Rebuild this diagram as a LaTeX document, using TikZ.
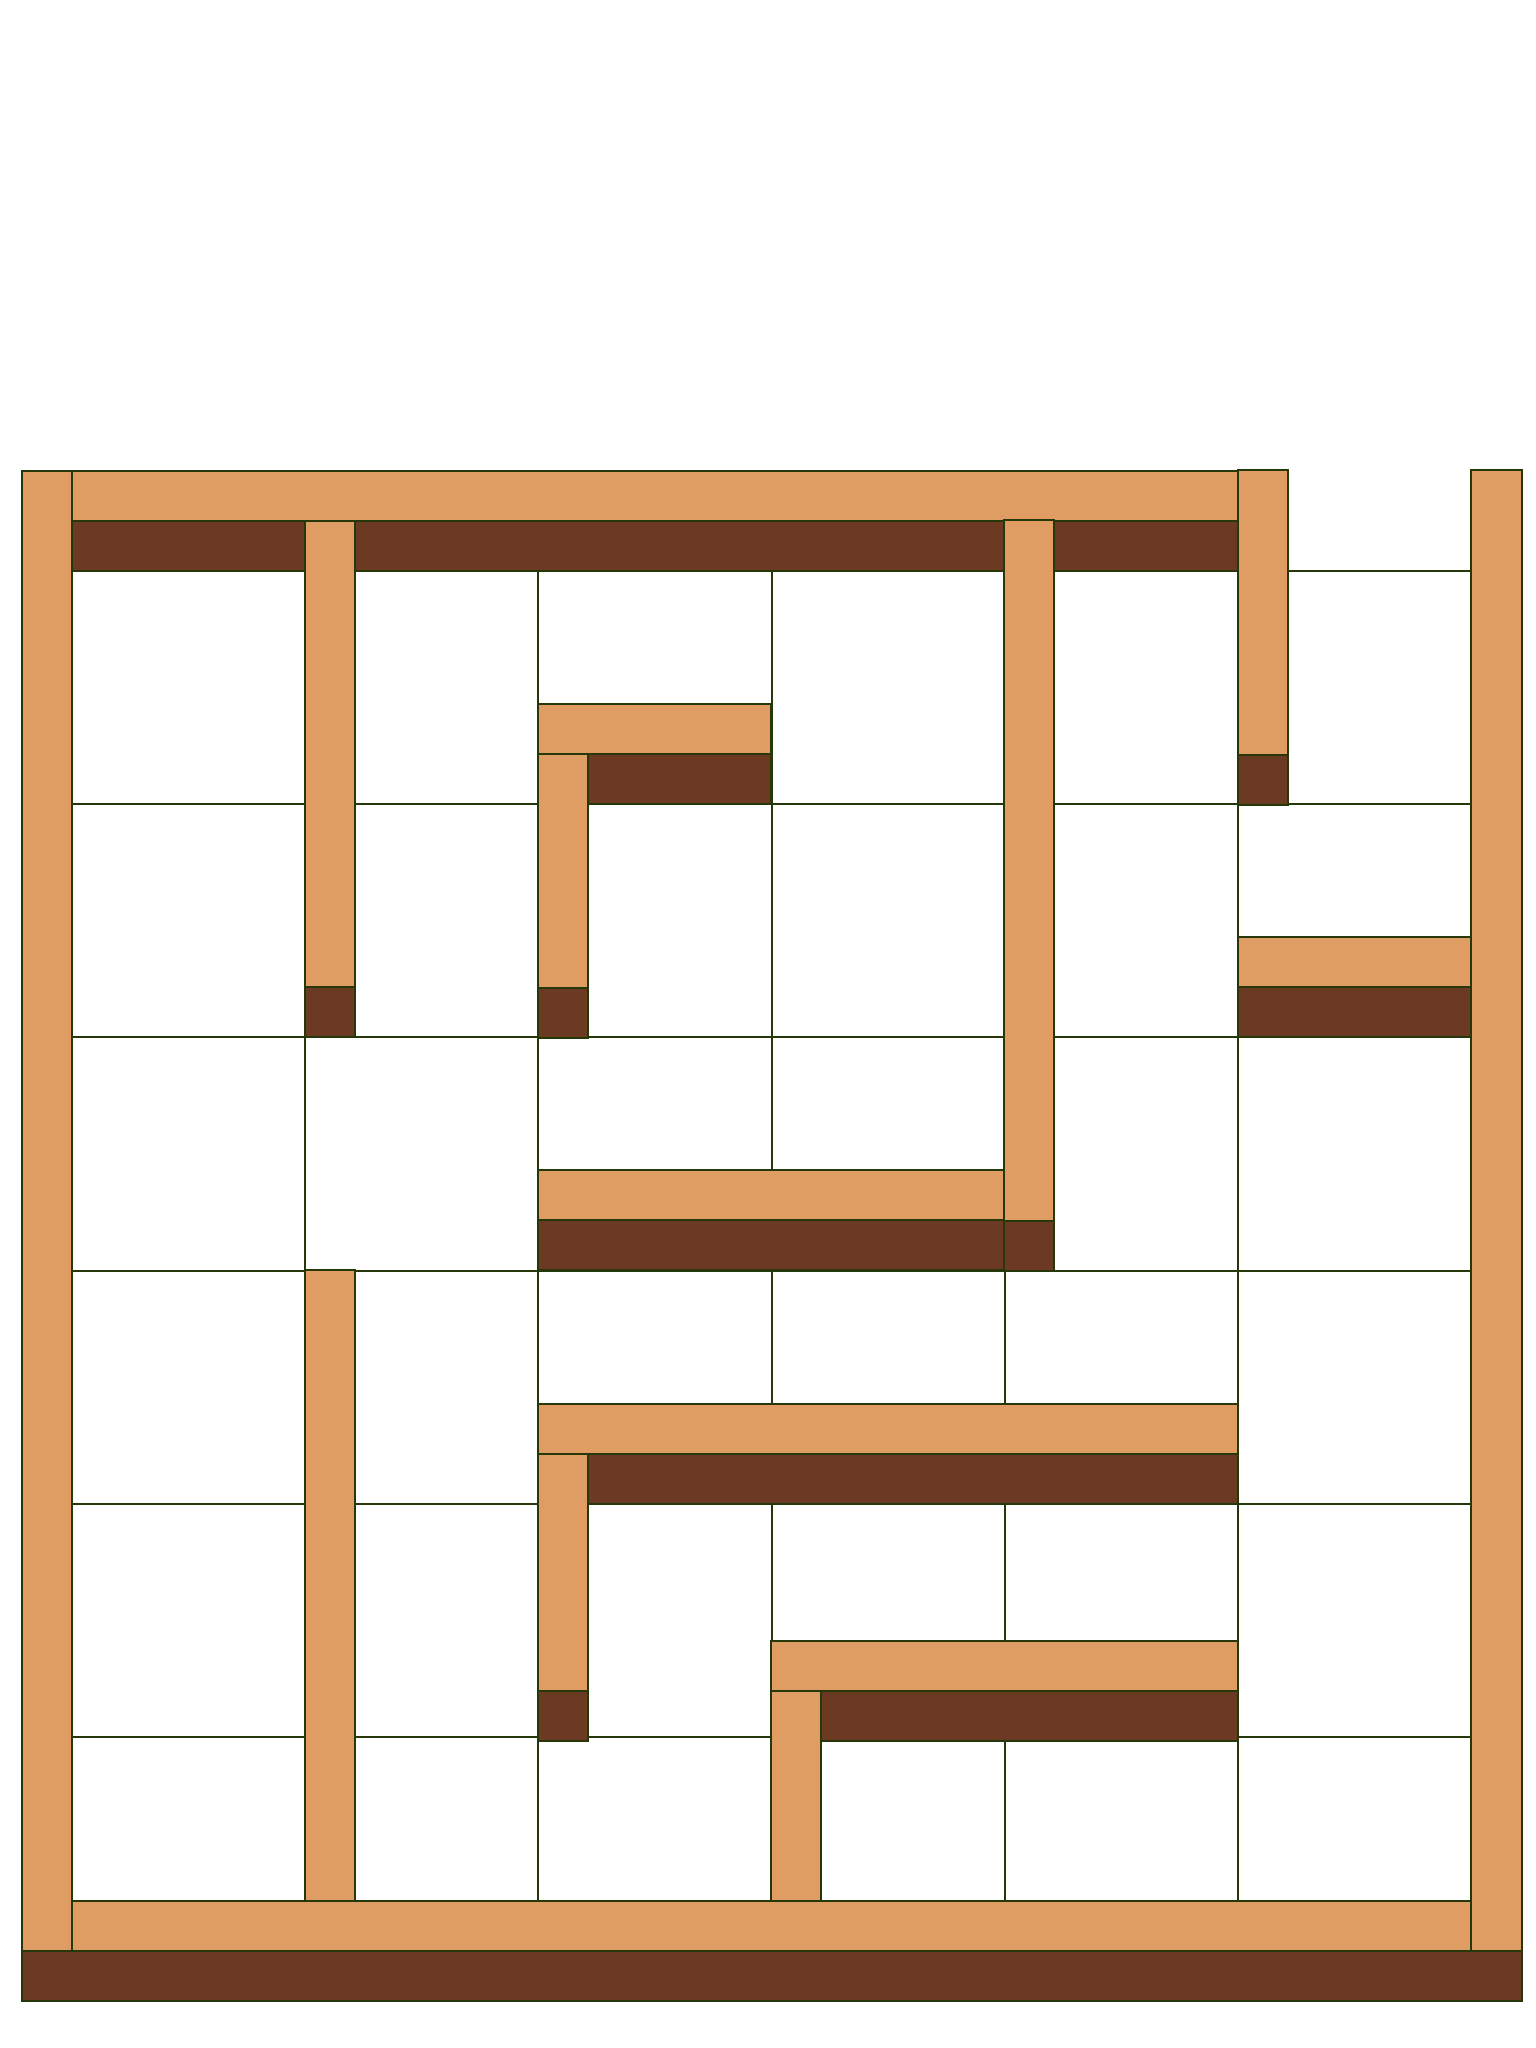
\documentclass[tikz,border=0pt]{standalone}
\usepackage{tikz}
\usepackage{xcolor}
\definecolor{wallline}{RGB}{38,56,10}
\definecolor{walltopcol}{RGB}{223,157,99}
\definecolor{wallfrontcol}{RGB}{108,57,34}

\begin{document}
\begin{tikzpicture}[x=0.01cm, y=-0.01cm,
  gridline/.style={draw=wallline, line width=0.6pt},
  walltop/.style={fill=walltopcol, draw=wallline, line width=0.6pt},
  wallfront/.style={fill=wallfrontcol, draw=wallline, line width=0.6pt}]
\useasboundingbox (0,0) rectangle (1536,2048);
% floor grid
\foreach \i in {0,...,6} {
  \draw[gridline] ({72+233.2*\i},571) -- ({72+233.2*\i},1970);
}
\foreach \j in {0,...,5} {
  \draw[gridline] (72,{571+233.2*\j}) -- (1471,{571+233.2*\j});
}
% top wall
\draw[walltop] (72,471) rectangle (1238,521);
\draw[wallfront] (72,521) rectangle (1238,571);
% inner walls
\draw[walltop] (305,521) rectangle (355,987);
\draw[wallfront] (305,987) rectangle (355,1037);
\draw[walltop] (1238,470) rectangle (1288,755);
\draw[wallfront] (1238,755) rectangle (1288,805);
\draw[walltop] (538,704) rectangle (771,754);
\draw[wallfront] (538,754) rectangle (771,804);
\draw[walltop] (538,754) rectangle (588,988);
\draw[wallfront] (538,988) rectangle (588,1038);
\draw[walltop] (1238,937) rectangle (1471,987);
\draw[wallfront] (1238,987) rectangle (1471,1037);
\draw[walltop] (538,1170) rectangle (1004,1220);
\draw[wallfront] (538,1220) rectangle (1004,1270);
\draw[walltop] (1004,520) rectangle (1054,1221);
\draw[wallfront] (1004,1221) rectangle (1054,1271);
\draw[walltop] (538,1404) rectangle (1238,1454);
\draw[wallfront] (538,1454) rectangle (1238,1504);
\draw[walltop] (538,1454) rectangle (588,1691);
\draw[wallfront] (538,1691) rectangle (588,1741);
\draw[walltop] (771,1641) rectangle (1238,1691);
\draw[wallfront] (771,1691) rectangle (1238,1741);
\draw[walltop] (771,1691) rectangle (821,1901);
\draw[walltop] (305,1270) rectangle (355,1901);
% bottom wall
\draw[walltop] (72,1901) rectangle (1471,1951);
\draw[wallfront] (22,1951) rectangle (1522,2001);
% side walls
\draw[walltop] (22,471) rectangle (72,1951);
\draw[walltop] (1471,470) rectangle (1522,1951);
\end{tikzpicture}
\end{document}
